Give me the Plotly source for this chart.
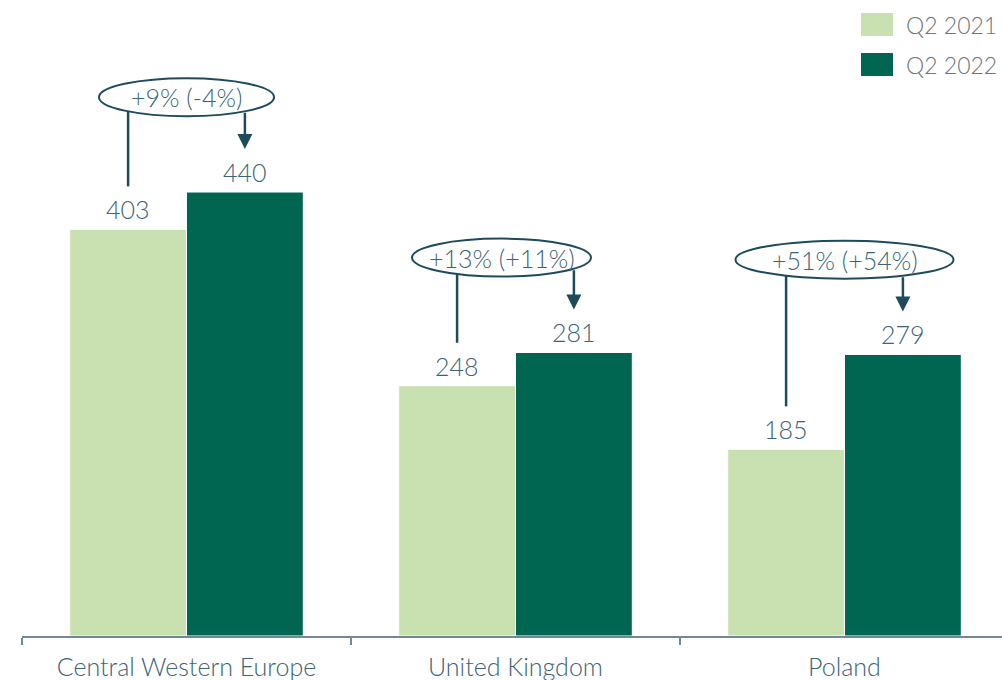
import math
import plotly.graph_objects as go

# --- data -------------------------------------------------------------
categories = ["Central Western Europe", "United Kingdom", "Poland"]
series_names = ["Q2 2021", "Q2 2022"]
q2_2021 = [403, 248, 185]
q2_2022 = [440, 281, 279]
growth_labels = ["+9% (-4%)", "+13% (+11%)", "+51% (+54%)"]

# --- style ------------------------------------------------------------
LIGHT = "#C9E0B1"
DARK = "#006652"
INK = "#1E4B5C"
LABEL = "#3C6475"
AXIS = "#6F8A96"
LEGEND_TXT = "#6E7579"
FONT = "Lato"

W, H = 1002, 680
ML, MB = 22, 44
CAT_PX = 329.0
PLOT_W = W - ML
PLOT_H = H - MB
Y_MAX = 630.3
PPU = PLOT_H / Y_MAX                # pixels per value unit
X_RANGE = [-0.5, -0.5 + PLOT_W / CAT_PX]
BARGAP = 0.29
HALF = (1 - BARGAP) / 4             # bar centre offset from category centre

# callout ellipses: centre offset (px), width (px), height (px)
CALLOUT_DX = [0, -14, 0]
CALLOUT_W = [175, 179, 218]
CALLOUT_H = 38
CALLOUT_RISE = 94                   # ellipse centre above the taller bar (units)
LEAD_GAP = 43 / PPU                 # leader end above bar top (units)

fig = go.Figure()
for name, vals, col in [(series_names[0], q2_2021, LIGHT), (series_names[1], q2_2022, DARK)]:
    fig.add_trace(go.Bar(
        x=categories, y=vals, name=name,
        marker=dict(color=col, line=dict(color="white", width=1)),
        showlegend=False, hoverinfo="skip",
    ))

annotations = []
shapes = []
for i, (a, b) in enumerate(zip(q2_2021, q2_2022)):
    xa, xb = i - HALF, i + HALF
    for x, v in [(xa, a), (xb, b)]:
        annotations.append(dict(
            x=x, y=v, xref="x", yref="y", text=str(v), showarrow=False,
            yanchor="middle", yshift=20,
            font=dict(family=FONT, size=25, color=LABEL, weight=300),
        ))

    # ellipse callout
    cx = i + CALLOUT_DX[i] / CAT_PX
    cy = max(a, b) + CALLOUT_RISE
    rx = CALLOUT_W[i] / 2 / CAT_PX
    ry = CALLOUT_H / 2 / PPU
    shapes.append(dict(
        type="circle", xref="x", yref="y",
        x0=cx - rx, x1=cx + rx, y0=cy - ry, y1=cy + ry,
        line=dict(color=INK, width=2), fillcolor="rgba(0,0,0,0)",
    ))
    annotations.append(dict(
        x=cx, y=cy, xref="x", yref="y", text=growth_labels[i], showarrow=False,
        font=dict(family=FONT, size=25, color=LABEL, weight=300),
    ))

    def edge_y(x):
        t = (x - cx) / rx
        return cy - ry * math.sqrt(max(0.0, 1 - t * t))

    # leader line down to the earlier quarter
    shapes.append(dict(
        type="line", xref="x", yref="y",
        x0=xa, x1=xa, y0=edge_y(xa), y1=a + LEAD_GAP,
        line=dict(color=INK, width=2.5),
    ))
    # arrow down to the later quarter
    annotations.append(dict(
        x=xb, y=b + LEAD_GAP, ax=xb, ay=edge_y(xb),
        xref="x", yref="y", axref="x", ayref="y", text="",
        showarrow=True, arrowhead=2, arrowsize=1.2, arrowwidth=2.5,
        arrowcolor=INK, standoff=0,
    ))

# legend drawn as swatches + labels in pixel positions
def px_to_paper(px, py):
    return (px - ML) / PLOT_W, (PLOT_H - py) / PLOT_H

for k, (name, col) in enumerate([(series_names[0], LIGHT), (series_names[1], DARK)]):
    top = 13 + 40 * k
    x0, y1 = px_to_paper(861, top)
    x1, y0 = px_to_paper(893, top + 23)
    shapes.append(dict(type="rect", xref="paper", yref="paper",
                       x0=x0, x1=x1, y0=y0, y1=y1, fillcolor=col,
                       line=dict(width=0)))
    tx, ty = px_to_paper(904, top + 12)
    annotations.append(dict(
        x=tx, y=ty, xref="paper", yref="paper", text=name, showarrow=False,
        xanchor="left", yanchor="middle",
        font=dict(family=FONT, size=23, color=LEGEND_TXT, weight=300),
    ))

fig.update_layout(
    width=W, height=H,
    margin=dict(l=ML, r=0, t=0, b=MB),
    plot_bgcolor="white", paper_bgcolor="white",
    barmode="group", bargap=BARGAP, bargroupgap=0,
    shapes=shapes, annotations=annotations,
    xaxis=dict(
        range=X_RANGE, showgrid=False, zeroline=False,
        showline=True, linecolor=AXIS, linewidth=2,
        ticks="outside", tickson="boundaries", ticklen=7, tickcolor=AXIS, tickwidth=2,
        ticklabelstandoff=8,
        tickfont=dict(family=FONT, size=25, color=LABEL, weight=300),
    ),
    yaxis=dict(range=[0, Y_MAX], visible=False, showgrid=False, zeroline=False),
)

fig.write_html("out.html")
